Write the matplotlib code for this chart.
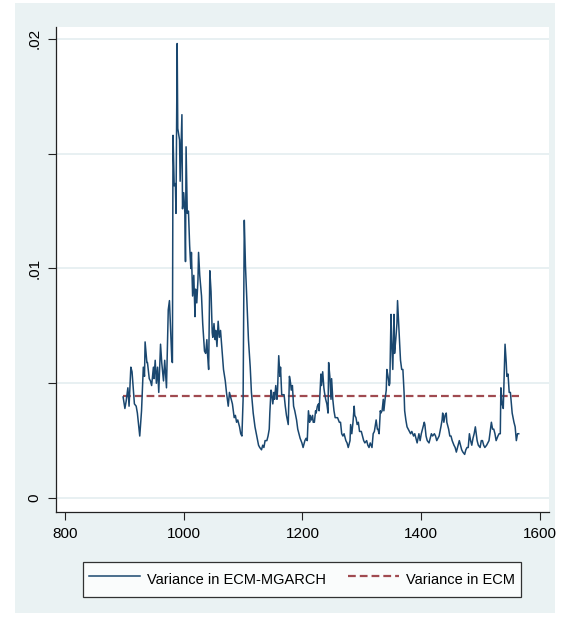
import matplotlib.pyplot as plt
from matplotlib.patches import Rectangle
import numpy as np

# time index
t = [898, 901, 903, 906, 908, 911, 913, 917, 920, 922,
     926, 929, 932, 934, 935, 938, 939, 942, 944, 946,
     949, 950, 952, 954, 956, 958, 961, 963, 966, 968,
     971, 974, 976, 980, 981, 982, 984, 986, 987, 989,
     990, 993, 994, 997, 998, 1000, 1002, 1003, 1004, 1006,
     1008, 1010, 1012, 1013, 1015, 1017, 1019, 1020, 1022, 1024,
     1025, 1027, 1030, 1032, 1034, 1035, 1037, 1039, 1040, 1042,
     1044, 1046, 1048, 1049, 1051, 1053, 1054, 1056, 1058, 1060,
     1062, 1064, 1067, 1070, 1072, 1075, 1077, 1079, 1082, 1085,
     1087, 1089, 1091, 1094, 1096, 1098, 1100, 1102, 1104, 1107,
     1109, 1112, 1114, 1117, 1120, 1123, 1126, 1128, 1131, 1133,
     1135, 1137, 1140, 1142, 1144, 1145, 1147, 1148, 1150, 1152,
     1153, 1155, 1157, 1158, 1160, 1162, 1163, 1165, 1168, 1169,
     1171, 1173, 1176, 1178, 1180, 1181, 1183, 1185, 1187, 1190,
     1192, 1194, 1196, 1199, 1201, 1204, 1206, 1208, 1210, 1212,
     1213, 1215, 1217, 1218, 1220, 1222, 1223, 1225, 1227, 1228,
     1231, 1232, 1234, 1236, 1237, 1239, 1241, 1243, 1244, 1246,
     1248, 1249, 1251, 1253, 1255, 1257, 1259, 1262, 1264, 1266,
     1268, 1270, 1273, 1275, 1277, 1280, 1281, 1283, 1285, 1287,
     1288, 1290, 1292, 1294, 1296, 1299, 1301, 1303, 1305, 1308,
     1310, 1312, 1314, 1317, 1319, 1321, 1324, 1326, 1327, 1329,
     1331, 1332, 1334, 1336, 1337, 1339, 1341, 1342, 1344, 1346,
     1347, 1349, 1350, 1352, 1354, 1355, 1357, 1359, 1360, 1362,
     1364, 1365, 1367, 1369, 1371, 1372, 1374, 1376, 1378, 1380,
     1382, 1384, 1387, 1389, 1391, 1393, 1396, 1398, 1400, 1402,
     1405, 1406, 1408, 1410, 1413, 1415, 1417, 1419, 1422, 1424,
     1426, 1428, 1430, 1433, 1435, 1436, 1438, 1440, 1442, 1443,
     1446, 1448, 1450, 1452, 1455, 1457, 1459, 1461, 1464, 1466,
     1468, 1470, 1473, 1475, 1477, 1479, 1481, 1483, 1485, 1487,
     1489, 1491, 1493, 1494, 1496, 1499, 1501, 1503, 1505, 1507,
     1510, 1512, 1514, 1516, 1518, 1520, 1522, 1524, 1526, 1529,
     1531, 1533, 1534, 1536, 1538, 1539, 1541, 1543, 1544, 1546,
     1548, 1550, 1551, 1553, 1556, 1558, 1560, 1562, 1564]

# variance in ECM-MGARCH, in units of 1e-3
var_mgarch = [4.4, 3.9, 4.2, 4.8, 4.0, 5.7, 5.5, 4.1, 4.0, 3.7,
              2.7, 3.8, 5.7, 5.3, 6.8, 5.9, 5.9, 5.2, 5.1, 4.9,
              5.7, 5.2, 6.0, 5.0, 5.7, 4.6, 6.7, 5.9, 5.1, 6.0,
              4.8, 8.2, 8.6, 6.0, 5.9, 15.8, 13.6, 13.7, 12.4, 19.8,
              16.1, 15.6, 13.8, 16.7, 12.6, 13.3, 12.4, 10.3, 15.3, 12.4,
              12.5, 11.0, 10.0, 10.7, 8.8, 9.7, 7.9, 9.1, 8.5, 9.5,
              10.7, 9.7, 8.8, 7.6, 6.8, 6.4, 6.3, 6.9, 6.3, 5.6,
              9.9, 9.0, 7.2, 7.0, 7.6, 6.9, 7.3, 6.6, 7.7, 7.0,
              7.3, 6.6, 5.6, 5.1, 4.6, 4.0, 4.6, 4.4, 4.1, 3.5,
              3.6, 3.3, 3.4, 3.1, 2.8, 2.7, 4.3, 12.1, 10.1, 8.2,
              6.9, 5.7, 4.6, 3.7, 3.1, 2.7, 2.3, 2.2, 2.1, 2.3,
              2.2, 2.5, 2.5, 2.7, 3.0, 3.7, 4.7, 4.6, 4.1, 4.6,
              4.3, 4.9, 4.3, 4.7, 6.2, 5.3, 5.7, 4.5, 4.5, 4.5,
              4.0, 3.6, 3.2, 5.3, 5.0, 4.7, 4.9, 4.0, 3.8, 3.4,
              3.0, 2.8, 2.6, 2.4, 2.2, 2.5, 2.6, 2.5, 3.8, 3.3,
              3.6, 3.4, 3.6, 3.3, 3.3, 3.8, 3.7, 4.0, 4.1, 3.8,
              5.4, 4.9, 5.5, 4.8, 4.6, 4.3, 4.1, 3.7, 5.9, 5.3,
              4.3, 5.2, 4.3, 3.8, 3.5, 3.5, 3.5, 3.3, 3.3, 2.8,
              2.7, 2.8, 2.5, 2.4, 2.2, 2.5, 3.2, 2.8, 3.3, 4.0,
              3.6, 3.5, 3.2, 3.3, 2.9, 2.9, 2.7, 2.5, 2.4, 2.5,
              2.3, 2.2, 2.4, 2.2, 2.8, 2.9, 3.4, 3.0, 3.0, 2.8,
              3.8, 3.7, 3.8, 4.3, 3.8, 4.3, 4.7, 5.6, 5.3, 4.9,
              5.0, 8.0, 6.9, 5.6, 8.0, 6.3, 6.9, 7.6, 8.6, 7.5,
              6.5, 6.0, 5.6, 5.6, 4.6, 3.8, 3.4, 3.1, 3.0, 2.9,
              2.8, 2.9, 2.7, 2.8, 2.6, 2.4, 2.8, 2.5, 2.8, 3.0,
              3.3, 3.2, 2.7, 2.5, 2.4, 2.6, 2.8, 2.7, 2.8, 2.7,
              2.5, 2.6, 2.7, 3.1, 3.4, 3.7, 3.3, 3.6, 3.7, 3.3,
              3.0, 2.7, 2.7, 2.5, 2.3, 2.2, 2.0, 2.2, 2.5, 2.3,
              2.1, 2.0, 1.9, 2.1, 2.2, 2.2, 2.8, 2.5, 2.3, 2.6,
              2.8, 3.1, 2.7, 2.5, 2.3, 2.2, 2.5, 2.5, 2.3, 2.2,
              2.3, 2.4, 2.5, 2.9, 3.3, 3.0, 3.0, 2.8, 2.5, 2.7,
              2.8, 2.8, 4.8, 4.1, 3.9, 4.8, 6.7, 5.9, 5.3, 5.4,
              4.6, 4.6, 4.3, 3.7, 3.3, 3.1, 2.5, 2.8, 2.8]

# constant variance of the plain ECM
var_ecm = 4.45

labels = ["Variance in ECM-MGARCH", "Variance in ECM"]

plt.rcParams['font.family'] = ['Liberation Sans Narrow', 'Liberation Sans', 'DejaVu Sans']

t = np.array(t)
y1 = np.array(var_mgarch) * 1e-3
y2 = np.full(len(t), var_ecm * 1e-3)

fig = plt.figure(figsize=(5.61, 6.29), dpi=100)
fig.patch.set_facecolor("white")
fig.add_artist(Rectangle((15 / 561, 1 - 613 / 629), 540 / 561, 610 / 629,
                         transform=fig.transFigure, facecolor="#eaf2f3",
                         edgecolor="none", zorder=0))

ax = fig.add_axes([56 / 561, 1 - 512 / 629, 493 / 561, 485 / 629])
ax.set_facecolor("white")

ax.plot(t, y1, color="#1a476f", lw=1.1, label=labels[0], zorder=3)
ax.plot(t, y2, color="#a04a50", lw=1.6, dashes=(3.5, 1.8), label=labels[1], zorder=2)

ax.set_xlim(785, 1615)
ax.set_ylim(-0.00061, 0.02052)
ax.set_xticks([800, 1000, 1200, 1400, 1600])
ax.set_yticks([0, 0.005, 0.01, 0.015, 0.02])
ax.set_yticklabels(["0", "", ".01", "", ".02"], rotation=90, va="center")
ax.grid(axis="y", color="#e6eff1", lw=1.3)
ax.set_axisbelow(True)

for side in ["top", "right"]:
    ax.spines[side].set_visible(False)
for side in ["left", "bottom"]:
    ax.spines[side].set_color("#222222")
    ax.spines[side].set_linewidth(0.9)

ax.tick_params(axis="both", direction="out", length=5.5, width=0.8,
               color="#222222", labelsize=11, pad=5)

leg = fig.legend(loc="center", bbox_to_anchor=(302 / 561, 1 - 579.5 / 629),
                 ncol=2, fontsize=10.5, frameon=True, fancybox=False,
                 edgecolor="black", handlelength=3.5, handletextpad=0.5,
                 columnspacing=1.5, borderpad=0.4, handleheight=2.0,
                 borderaxespad=0)
leg.get_frame().set_linewidth(0.9)

fig.savefig("out.png", dpi=100, facecolor=fig.get_facecolor())
